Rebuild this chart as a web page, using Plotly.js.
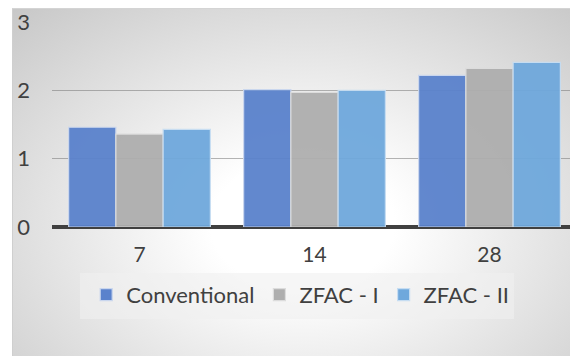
<!DOCTYPE html>
<html>
<head>
<meta charset="utf-8">
<script src="https://cdn.plot.ly/plotly-3.0.1.min.js"></script>
<style>
  html, body { margin: 0; padding: 0; background: #ffffff; }
  #wrap { position: relative; width: 570px; height: 356px; overflow: hidden; }
  #bg { position: absolute; left: 12px; top: 8px; right: 0; bottom: 0;
        background: radial-gradient(ellipse 75% 85% at 52% 62%, #ffffff 0%, #ffffff 22%, #e4e4e4 60%, #c8c8c8 100%);
        border-left: 1px solid #cfcfcf; border-top: 1px solid #d4d4d4; }
  #chart { position: absolute; left: 0; top: 0; width: 570px; height: 356px; }
</style>
</head>
<body>
<div id="wrap"><div id="bg"></div><div id="chart"></div></div>
<script>
const categories = ["7", "14", "28"];
const seriesNames = ["Conventional", "ZFAC - I", "ZFAC - II"];
const conventional = [1.46, 2.01, 2.22];
const zfac1 = [1.36, 1.97, 2.32];
const zfac2 = [1.43, 2.00, 2.41];
const yTicks = [0, 1, 2, 3];

const colors = ["#5a82cc", "#aeaeae", "#6fa8dc"];
const borders = ["#c9d6ee", "#dcdcdc", "#c6ddf2"];
const values = [conventional, zfac1, zfac2];

const traces = values.map((v, i) => ({
  type: "bar",
  name: seriesNames[i],
  x: categories,
  y: v,
  marker: { color: colors[i], opacity: 0.95, line: { color: borders[i], width: 1.2 } },
  hoverinfo: "none"
}));

const font = { family: "Lato, 'Open Sans', sans-serif", size: 22, color: "#404040" };

const layout = {
  width: 570, height: 356,
  margin: { l: 52, r: 0, t: 22, b: 129 },
  paper_bgcolor: "rgba(0,0,0,0)",
  plot_bgcolor: "rgba(0,0,0,0)",
  font: font,
  barmode: "group",
  bargap: 0.19,
  bargroupgap: 0,
  showlegend: true,
  xaxis: {
    type: "category",
    range: [-0.5, 2.46],
    showgrid: false,
    zeroline: false,
    showline: false,
    ticks: "",
    ticklabelstandoff: 13,
    tickfont: { family: font.family, size: 21, color: "#404040" }
  },
  yaxis: {
    range: [0, 3],
    tickvals: yTicks,
    ticktext: yTicks.map(String),
    showgrid: true,
    gridcolor: "rgba(120,120,120,0.55)",
    gridwidth: 1.5,
    zeroline: true,
    zerolinecolor: "#404040",
    zerolinewidth: 4,
    showline: false,
    ticks: "",
    ticklabelstandoff: 21,
    tickfont: { family: font.family, size: 22, color: "#404040" }
  },
  shapes: [{
    type: "rect", xref: "paper", yref: "paper",
    x0: 0.054, x1: 0.892, y0: -0.449, y1: -0.224,
    fillcolor: "rgba(240,240,240,0.6)", line: { width: 0 }, layer: "below"
  }],
  legend: {
    orientation: "h",
    x: 0.066, xanchor: "left",
    y: -0.228, yanchor: "top",
    bgcolor: "rgba(0,0,0,0)",
    font: { family: font.family, size: 22, color: "#404040" },
    itemwidth: 30,
    traceorder: "normal"
  }
};

Plotly.newPlot("chart", traces, layout, { staticPlot: true, displayModeBar: false });
</script>
</body>
</html>
